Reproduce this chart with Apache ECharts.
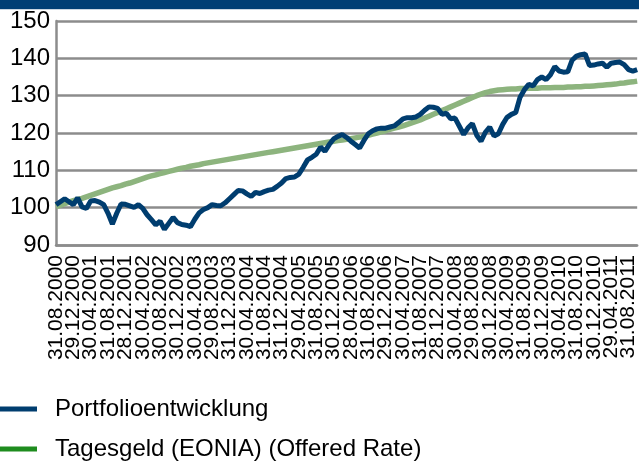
<!DOCTYPE html>
<html>
<head>
<meta charset="utf-8">
<script src="https://cdn.jsdelivr.net/npm/echarts@6/dist/echarts.min.js"></script>
<style>
  html, body { margin: 0; padding: 0; background: #fff; }
  #chart { width: 639px; height: 461px; }
</style>
</head>
<body>
<div id="chart"></div>
<script>
// Achsenbeschriftung (jeder 4. Monat)
var tickLabels = [
  "31.08.2000", "29.12.2000", "30.04.2001", "31.08.2001", "28.12.2001",
  "30.04.2002", "30.08.2002", "30.12.2002", "30.04.2003", "29.08.2003",
  "31.12.2003", "30.04.2004", "31.08.2004", "31.12.2004", "29.04.2005",
  "31.08.2005", "30.12.2005", "28.04.2006", "31.08.2006", "29.12.2006",
  "30.04.2007", "31.08.2007", "28.12.2007", "30.04.2008", "29.08.2008",
  "30.12.2008", "30.04.2009", "31.08.2009", "30.12.2009", "30.04.2010",
  "31.08.2010", "30.12.2010", "29.04.2011", "31.08.2011"
];

var seriesNames = ["Portfolioentwicklung", "Tagesgeld (EONIA) (Offered Rate)"];

// Monatswerte ab 08/2000 bis 10/2011
var portfolio = [
  100.8, 101.6, 102.4, 101.6, 100.8, 102.6, 100.2, 99.8, 101.8, 101.9,
  101.5, 100.8, 98.5, 95.6, 98.5, 101.0, 100.9, 100.5, 100.1, 100.8,
  99.8, 98.1, 96.8, 95.4, 96.4, 94.2, 95.8, 97.4, 96.0, 95.5,
  95.3, 94.9, 96.9, 98.6, 99.5, 100.0, 100.8, 100.6, 100.5, 101.3,
  102.4, 103.5, 104.6, 104.5, 103.7, 103.0, 104.1, 103.8, 104.3, 104.7,
  104.9, 105.7, 106.6, 107.8, 108.1, 108.2, 109.0, 110.8, 112.8, 113.5,
  114.3, 116.2, 115.1, 116.9, 118.4, 119.1, 119.6, 118.8, 117.8, 116.9,
  116.0, 118.0, 119.8, 120.6, 121.1, 121.3, 121.3, 121.6, 121.9, 122.8,
  123.8, 124.1, 124.1, 124.3, 125.0, 126.1, 127.0, 126.9, 126.6, 125.0,
  125.3, 123.8, 124.0, 121.8, 119.6, 121.4, 122.5, 119.4, 117.8, 120.2,
  121.6, 119.2, 119.8, 122.3, 124.2, 125.0, 125.5, 129.6, 131.6, 133.0,
  132.6, 134.3, 135.0, 134.3, 135.6, 137.8, 136.6, 136.3, 136.4, 139.5,
  140.6, 141.0, 141.2, 138.1, 138.2, 138.5, 138.7, 137.6, 138.7, 138.9,
  139.0, 138.3, 137.0, 136.6, 137.0
];

var tagesgeld = [
  100.3, 100.7, 101.1, 101.5, 101.9, 102.2, 102.5, 102.9, 103.3, 103.7,
  104.1, 104.5, 104.9, 105.3, 105.6, 105.9, 106.3, 106.6, 107.0, 107.4,
  107.8, 108.2, 108.5, 108.8, 109.1, 109.4, 109.7, 110.0, 110.3, 110.6,
  110.8, 111.1, 111.3, 111.5, 111.8, 112.0, 112.2, 112.4, 112.6, 112.8,
  113.0, 113.2, 113.4, 113.6, 113.8, 114.0, 114.2, 114.4, 114.6, 114.8,
  115.0, 115.2, 115.4, 115.6, 115.8, 116.0, 116.2, 116.4, 116.6, 116.8,
  117.0, 117.2, 117.4, 117.6, 117.8, 118.0, 118.1, 118.3, 118.5, 118.7,
  118.9, 119.1, 119.4, 119.7, 120.0, 120.3, 120.6, 121.0, 121.3, 121.6,
  121.9, 122.3, 122.7, 123.1, 123.5, 124.0, 124.5, 125.0, 125.5, 126.0,
  126.5, 127.0, 127.5, 128.0, 128.5, 129.0, 129.5, 130.0, 130.4, 130.8,
  131.1, 131.3, 131.5, 131.6, 131.7, 131.8, 131.8, 131.9, 131.9, 132.0,
  132.0, 132.0, 132.1, 132.1, 132.1, 132.2, 132.2, 132.2, 132.3, 132.3,
  132.4, 132.4, 132.5, 132.5, 132.6, 132.7, 132.8, 132.9, 133.0, 133.1,
  133.3, 133.4, 133.6, 133.7, 133.9
];

// Monatskategorien: jeder 4. Monat trägt das Stichtagsdatum
var categories = [];
for (var i = 0; i < portfolio.length; i++) {
  var m = 7 + i; // 0-basiert ab August 2000
  var year = 2000 + Math.floor(m / 12);
  var month = (m % 12) + 1;
  if (i % 4 === 0) {
    categories.push(tickLabels[i / 4]);
  } else {
    categories.push((month < 10 ? "0" : "") + month + "." + year);
  }
}

var blue = "#003d6f";
var green = "#8db47e";
var gridColor = "#8c8c8c";
var font = "Liberation Sans, Arial, sans-serif";

var myChart = echarts.init(document.getElementById("chart"));

// eine Legende pro Zeile, damit nichts umbricht
function legendRow(name, color, top) {
  return {
    orient: "horizontal",
    left: 0,
    top: top,
    padding: 0,
    itemWidth: 37,
    itemHeight: 5,
    icon: "rect",
    textStyle: {
      fontFamily: font,
      fontSize: 24,
      color: "#000",
      padding: [0, 0, 0, 13]
    },
    data: [{ name: name, itemStyle: { color: color } }]
  };
}

var option = {
  animation: false,
  backgroundColor: "#ffffff",
  graphic: [
    { type: "rect", left: 0, top: 0, shape: { width: 639, height: 9 }, style: { fill: "#003e75" }, z: 10 },
    { type: "rect", left: 0, top: 9, shape: { width: 639, height: 1 }, style: { fill: "#c9d5e2" }, z: 10 }
  ],
  grid: {
    left: 56,
    right: 0,
    top: 21,
    bottom: 216
  },
  legend: [
    legendRow(seriesNames[0], blue, 397),
    legendRow(seriesNames[1], "#1e8c1e", 437)
  ],
  xAxis: {
    type: "category",
    boundaryGap: false,
    data: categories,
    axisLine: { lineStyle: { color: gridColor, width: 2.5 } },
    axisTick: { show: false },
    axisLabel: {
      // alle Kategorien, aber nur jeder 4. Monat beschriftet
      interval: 0,
      hideOverlap: false,
      rotate: 90,
      margin: 10,
      formatter: function (value, index) { return index % 4 === 0 ? value : ""; },
      fontFamily: font,
      fontSize: 21,
      color: "#000"
    },
    splitLine: { show: false }
  },
  yAxis: {
    type: "value",
    min: 90,
    max: 150,
    interval: 10,
    axisLine: { show: true, lineStyle: { color: gridColor, width: 2.5 } },
    axisTick: { show: false },
    axisLabel: {
      margin: 6,
      fontFamily: font,
      fontSize: 24,
      color: "#000"
    },
    splitLine: { lineStyle: { color: gridColor, width: 2.5 } }
  },
  series: [
    {
      name: seriesNames[1],
      type: "line",
      data: tagesgeld,
      showSymbol: false,
      lineStyle: { color: green, width: 5.5 },
      itemStyle: { color: green },
      z: 2
    },
    {
      name: seriesNames[0],
      type: "line",
      data: portfolio,
      showSymbol: false,
      lineStyle: { color: blue, width: 5 },
      itemStyle: { color: blue },
      z: 3
    }
  ]
};

myChart.setOption(option);
</script>
</body>
</html>
